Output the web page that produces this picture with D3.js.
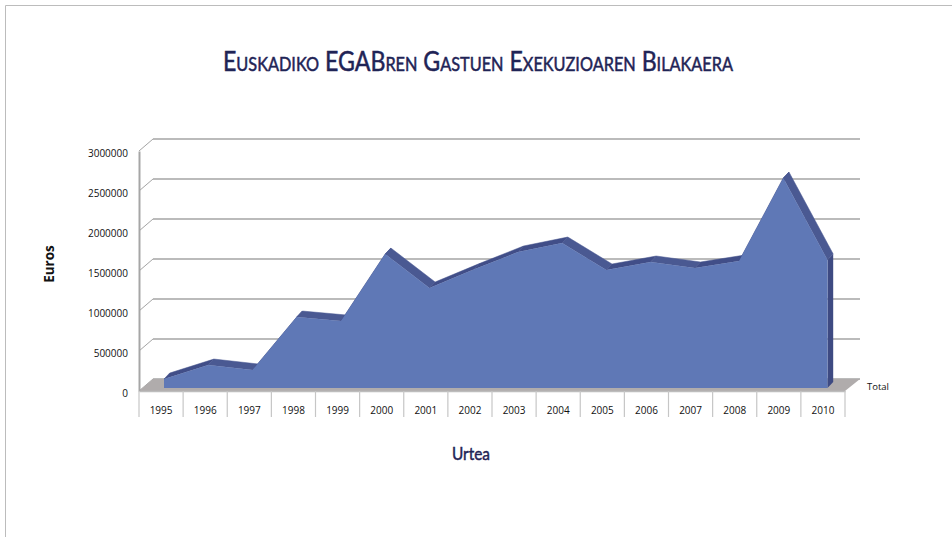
<!DOCTYPE html>
<html>
<head>
<meta charset="utf-8">
<script src="https://cdnjs.cloudflare.com/ajax/libs/d3/7.8.5/d3.min.js"></script>
<style>
  html, body { margin: 0; padding: 0; background: #fff; }
  svg { display: block; }
  .tick text { font-family: "Open Sans", sans-serif; font-size: 10px; fill: #111; }
</style>
</head>
<body>
<div id="chart"></div>
<script>
var years = ["1995","1996","1997","1998","1999","2000","2001","2002","2003","2004","2005","2006","2007","2008","2009","2010"];
var totals = [112000, 287000, 225000, 887000, 837000, 1675000, 1250000, 1480000, 1700000, 1812000, 1475000, 1575000, 1500000, 1587000, 2625000, 1600000];
var yTicks = [0, 500000, 1000000, 1500000, 2000000, 2500000, 3000000];

var width = 952, height = 537;
var wallX = 14, wallY = -12; // front of the axis box to the back wall
var topX = 5.7, topY = -6;   // thickness of the 3d area

var xBand = d3.scaleBand().domain(years).range([139, 845]);
var xArea = d3.scalePoint().domain(years).range([164, 827.5]);
var yScale = d3.scaleLinear().domain([0, 3000000]).range([391, 151]);
var yArea = d3.scaleLinear().domain([0, 3000000]).range([388, 148]);

var svg = d3.select("#chart").append("svg").attr("width", width).attr("height", height);

// page frame
svg.append("path")
  .attr("d", "M5.5," + height + "V5.5H" + width)
  .attr("fill", "none").attr("stroke", "#bcbcbc").attr("stroke-width", 1);

svg.append("text")
  .attr("x", 478).attr("y", 71)
  .attr("text-anchor", "middle")
  .attr("textLength", 510).attr("lengthAdjust", "spacingAndGlyphs")
  .style("font-family", "Lato, sans-serif").style("font-size", "27px").style("font-weight", 400)
  .style("font-variant", "small-caps").style("fill", "#1f2456")
  .style("stroke", "#1f2456").style("stroke-width", 0.5)
  .text("Euskadiko EGABren Gastuen Exekuzioaren Bilakaera");

// back wall gridlines with the short diagonal to the front axis
var grid = svg.append("g").attr("fill", "none").attr("stroke", "#a4a4a4");
grid.selectAll("line.back").data(yTicks).enter().append("line")
  .attr("class", "back")
  .attr("x1", xBand.range()[0] + wallX).attr("x2", 860)
  .attr("y1", function(d) { return yScale(d) + wallY; })
  .attr("y2", function(d) { return yScale(d) + wallY; })
  .attr("stroke-width", 1.7);
grid.selectAll("line.side").data(yTicks).enter().append("line")
  .attr("class", "side")
  .attr("x1", xBand.range()[0]).attr("x2", xBand.range()[0] + wallX)
  .attr("y1", function(d) { return yScale(d); })
  .attr("y2", function(d) { return yScale(d) + wallY; })
  .attr("stroke-width", 1);

// floor
var fx0 = xBand.range()[0], fx1 = xBand.range()[1], fy = yScale(0);
svg.append("path")
  .attr("d", "M" + fx0 + "," + fy + "L" + (fx0 + wallX) + "," + (fy + wallY) + "L" + (fx1 + 15) + "," + (fy + wallY) + "L" + fx1 + "," + fy + "Z")
  .attr("fill", "#b0acac");

// top faces, one per segment
var faces = svg.append("g");
d3.pairs(years).forEach(function(p, i) {
  var x1 = xArea(p[0]), y1 = yArea(totals[i]), x2 = xArea(p[1]), y2 = yArea(totals[i + 1]);
  faces.append("polygon")
    .attr("points", [[x1, y1], [x1 + topX, y1 + topY], [x2 + topX, y2 + topY], [x2, y2]].join(" "))
    .attr("fill", y2 > y1 ? "#4a5992" : "#414e88")
    .attr("stroke", y2 > y1 ? "#4a5992" : "#414e88").attr("stroke-width", 0.5);
});

// right side face
var lastY = years[years.length - 1], lastV = totals[totals.length - 1];
svg.append("polygon")
  .attr("points", [
    [xArea(lastY), yArea(lastV)], [xArea(lastY) + topX, yArea(lastV) + topY],
    [xArea(lastY) + topX, yArea(0) + topY], [xArea(lastY), yArea(0)]
  ].join(" "))
  .attr("fill", "#3e4a82");

// front face
var area = d3.area()
  .x(function(d, i) { return xArea(years[i]); })
  .y0(yArea(0))
  .y1(function(d) { return yArea(d); });
svg.append("path").datum(totals).attr("d", area).attr("fill", "#5f78b6");

// y axis
var yAxis = d3.axisLeft(yScale).tickValues(yTicks).tickFormat(d3.format("d")).tickSize(0).tickPadding(11);
var yG = svg.append("g").attr("transform", "translate(139,0)").call(yAxis);
yG.select(".domain").attr("stroke", "#a6a6a6").attr("stroke-width", 2);
yG.selectAll(".tick text").attr("dy", "0.55em");

// x axis, the separators sit on the band edges
var xAxis = d3.axisBottom(xBand).tickSize(0).tickPadding(16);
var xG = svg.append("g").attr("transform", "translate(0,391)").call(xAxis);
xG.select(".domain").attr("stroke", "#bdbdbd").attr("stroke-width", 1.5);
svg.append("g").selectAll("line")
  .data(years.concat(["end"])).enter().append("line")
  .attr("x1", function(d) { return d === "end" ? xBand.range()[1] : xBand(d); })
  .attr("x2", function(d) { return d === "end" ? xBand.range()[1] : xBand(d); })
  .attr("y1", 391).attr("y2", 417)
  .attr("stroke", "#c6c6c6").attr("stroke-width", 1.2);

// series name at the end of the floor
svg.append("text")
  .attr("x", 867).attr("y", 389.5)
  .style("font-family", "Open Sans, sans-serif").style("font-size", "9.5px").style("fill", "#111")
  .text("Total");

svg.append("text")
  .attr("transform", "translate(54,264) rotate(-90)")
  .attr("text-anchor", "middle")
  .style("font-family", "Open Sans, sans-serif").style("font-size", "13.5px").style("font-weight", 700)
  .style("fill", "#111")
  .text("Euros");

svg.append("text")
  .attr("x", 471).attr("y", 460)
  .attr("text-anchor", "middle")
  .attr("textLength", 38).attr("lengthAdjust", "spacingAndGlyphs")
  .style("font-family", "Lato, sans-serif").style("font-size", "18px").style("font-weight", 400)
  .style("fill", "#1f2456").style("stroke", "#1f2456").style("stroke-width", 0.5)
  .text("Urtea");
</script>
</body>
</html>
